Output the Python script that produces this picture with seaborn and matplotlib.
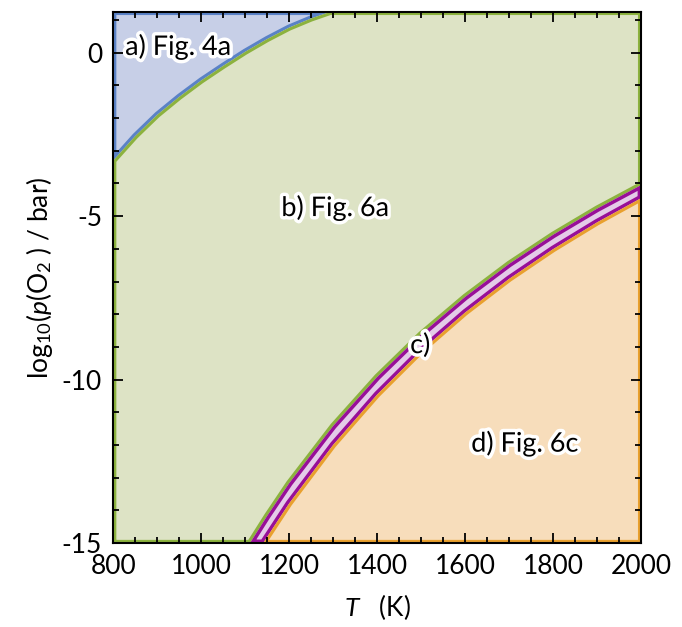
import numpy as np
import matplotlib
matplotlib.use("Agg")
import matplotlib.pyplot as plt
import matplotlib.patheffects as pe
from matplotlib.ticker import MultipleLocator
import seaborn as sns

# ---- data ----
T_MIN, T_MAX = 800, 2000
P_MIN, P_MAX = -15, 1.25

# a) / b) boundary
T_ab = [800, 850, 900, 950, 1000, 1050, 1100, 1150, 1200, 1250, 1293]
logp_ab = [-3.3, -2.55, -1.9, -1.35, -0.85, -0.4, 0.03, 0.42, 0.77, 1.05, 1.25]

# b) / c) boundary (upper edge of the thin band)
T_bc = [1111, 1150, 1200, 1300, 1400, 1500, 1600, 1700, 1800, 1900, 2000]
logp_bc = [-15.0, -14.17, -13.17, -11.42, -9.92, -8.61, -7.47, -6.46, -5.57, -4.77, -4.05]

# c) / d) boundary (lower edge of the thin band)
T_cd = [1141, 1200, 1300, 1400, 1500, 1600, 1700, 1800, 1900, 2000]
logp_cd = [-15.0, -13.79, -12.0, -10.46, -9.12, -7.95, -6.92, -6.01, -5.19, -4.45]

region_labels = ["a) Fig. 4a", "b) Fig. 6a", "c)", "d) Fig. 6c"]
label_T = [948, 1305, 1498, 1736]
label_logp = [0.18, -4.75, -8.96, -11.96]

sns.set_theme(style="ticks")
plt.rcParams["font.family"] = ["Lato", "DejaVu Sans"]
plt.rcParams["mathtext.fontset"] = "custom"
plt.rcParams["mathtext.it"] = "Lato:italic"
plt.rcParams["mathtext.rm"] = "Lato"
plt.rcParams["axes.unicode_minus"] = False

fig = plt.figure(figsize=(6.82, 6.27), dpi=100)
ax = fig.add_axes([0.166, 0.134, 0.774, 0.847])
ax.set_axisbelow(False)


def region(xs, ys, fill, edge, lw):
    patch = ax.fill(xs, ys, color=fill, lw=0, zorder=1)[0]
    sns.lineplot(x=xs, y=ys, sort=False, estimator=None, color=edge,
                 lw=lw, ax=ax, zorder=2)
    ax.lines[-1].set_clip_path(patch)


# a) region
xa = [T_MIN] + T_ab + [T_MIN]
ya = [P_MAX] + logp_ab + [P_MAX]
region(xa, ya, "#c7cfe7", "#5a82c6", 4.5)

# b) region
xb = [T_MIN] + T_ab + [T_MAX] + T_bc[::-1] + [T_MIN]
yb = [P_MIN] + logp_ab + [P_MAX] + logp_bc[::-1] + [P_MIN]
region(xb, yb, "#dde3c5", "#8cb23e", 4.5)

# c) band
xc = T_bc + T_cd[::-1] + [T_bc[0]]
yc = logp_bc + logp_cd[::-1] + [logp_bc[0]]
region(xc, yc, "#e4cbe8", "#980f98", 5.0)

# d) region
xd = T_cd + [T_MAX, T_cd[0]]
yd = logp_cd + [P_MIN, P_MIN]
region(xd, yd, "#f7ddbb", "#e9a02e", 4.5)

for txt, tx, ty in zip(region_labels, label_T, label_logp):
    ax.text(tx, ty, txt, ha="center", va="center", fontsize=19.5, color="black",
            zorder=5, path_effects=[pe.withStroke(linewidth=5, foreground="white")])

ax.set_xlim(T_MIN, T_MAX)
ax.set_ylim(P_MIN, P_MAX)
ax.xaxis.set_major_locator(MultipleLocator(200))
ax.xaxis.set_minor_locator(MultipleLocator(50))
ax.yaxis.set_major_locator(MultipleLocator(5))
ax.yaxis.set_minor_locator(MultipleLocator(1))
ax.tick_params(which="both", direction="in", top=True, right=True,
               labelsize=19, color="black", labelcolor="black", width=1.3, pad=8)
ax.tick_params(which="major", length=7)
ax.tick_params(which="minor", length=4)
for s in ax.spines.values():
    s.set_linewidth(1.5)
    s.set_color("black")
    s.set_zorder(6)
ax.xaxis.set_zorder(7)
ax.yaxis.set_zorder(7)

ax.set_xlabel(r"$T$   (K)", fontsize=19, labelpad=9, color="black")
ax.set_ylabel(r"log$_{10}$($p$(O$_2$ ) / bar)", fontsize=19, labelpad=5, color="black")

fig.savefig("out.png", dpi=100)
